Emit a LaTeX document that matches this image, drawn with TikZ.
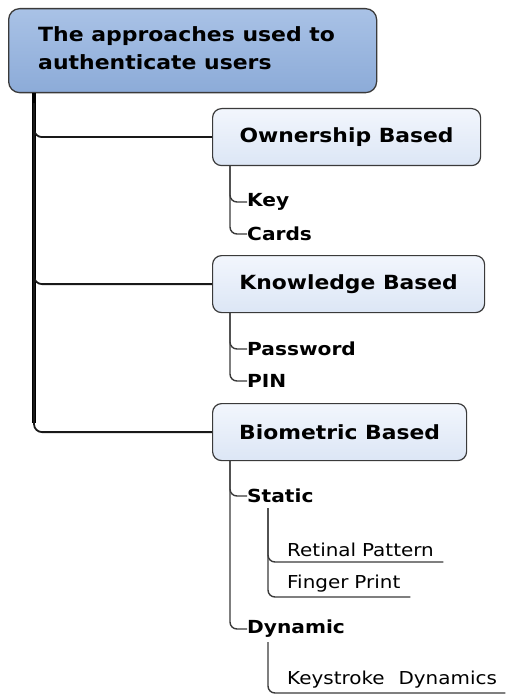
\documentclass[tikz,border=0pt]{standalone}
\usepackage{fontspec}
\setmainfont{DejaVu Sans}[FakeStretch=1.12]
\usetikzlibrary{calc}
\definecolor{rootTop}{HTML}{A9C2E6}
\definecolor{rootBot}{HTML}{8CABD8}
\definecolor{boxTop}{HTML}{F2F6FD}
\definecolor{boxBot}{HTML}{DCE6F5}
\definecolor{edge}{HTML}{3A3A3A}
\begin{document}
\begin{tikzpicture}[x=1pt,y=-1pt,
  rootbox/.style={draw=edge, line width=1.3pt, rounded corners=11pt,
    top color=rootTop, bottom color=rootBot, minimum width=368pt, minimum height=84pt,
    anchor=north west, inner sep=0pt},
  catbox/.style={draw=edge, line width=1.2pt, rounded corners=9pt,
    top color=boxTop, bottom color=boxBot, minimum height=57pt,
    anchor=north west, inner sep=0pt},
  cattext/.style={font=\bfseries\fontsize{19.5}{22}\selectfont},
  leafbold/.style={anchor=west, inner sep=0pt, font=\bfseries\fontsize{18}{20}\selectfont},
  leaf/.style={anchor=south west, inner xsep=0pt, inner ysep=5pt, align=left,
    font=\fontsize{17.8}{20}\selectfont},
  trunk/.style={line width=4.8pt, black},
  branch/.style={line width=1.8pt, black!90, rounded corners=8pt},
  twig/.style={line width=1.4pt, edge, rounded corners=7pt}
]
\useasboundingbox (0,0) rectangle (509,695);

% root
\node[rootbox] (root) at (8,8) {};
\node[anchor=north west, inner sep=0pt, align=left,
  font=\bfseries\fontsize{19.6}{28}\selectfont] (roottxt) at (38,26)
  {The approaches used to\\authenticate users};

% categories
\node[catbox, minimum width=268pt] (own) at (212,108) {};
\node[cattext] (ownt) at (own.center) {Ownership Based};
\node[catbox, minimum width=272pt] (know) at (212,255) {};
\node[cattext] (knowt) at (know.center) {Knowledge Based};
\node[catbox, minimum width=254pt] (bio) at (212,403) {};
\node[cattext] (biot) at (bio.center) {Biometric Based};

% trunk
\coordinate (t0) at ($(root.south west)+(26,0)$);
\coordinate (t1) at ($(t0)+(0,330)$);
\draw[trunk] (t0) -- (t1);
\draw[branch] ($(t0)+(0,10)$) |- (own.west);
\draw[branch] ($(t0)+(0,10)$) |- (know.west);
\draw[branch] ($(t0)+(0,10)$) |- (bio.west);

% leaves of the first two categories
\node[leafbold] (key) at (247,202) {Key};
\node[leafbold] (cards) at (247,234) {Cards};
\node[leafbold] (pw) at (247,349) {Password};
\node[leafbold] (pin) at (247,381) {PIN};
\coordinate (o0) at ($(own.south west)+(18,0)$);
\coordinate (k0) at ($(know.south west)+(18,0)$);
\draw[twig] (o0) |- (key.west);
\draw[twig] (o0) |- (cards.west);
\draw[twig] (k0) |- (pw.west);
\draw[twig] (k0) |- (pin.west);

% biometric sub-branches
\node[leafbold] (static) at (247,496) {Static};
\node[leafbold] (dyn) at (247,629) {Dynamic};
\coordinate (b0) at ($(bio.south west)+(18,0)$);
\draw[twig] (b0) |- (static.west);
\draw[twig] (b0) |- (dyn.west);

\node[leaf, text width=156pt] (ret) at (287,562) {Retinal Pattern};
\node[leaf, text width=123pt] (fp) at (287,597) {Finger Print};
\node[leaf, text width=218pt] (ks) at (287,693) {Keystroke\hspace{14pt}Dynamics};
\coordinate (s0) at (268,508);
\coordinate (d0) at (268,642);
\draw[twig] (s0) |- (ret.south east);
\draw[twig] (s0) |- (fp.south east);
\draw[twig] (d0) |- (ks.south east);
\end{tikzpicture}
\end{document}
